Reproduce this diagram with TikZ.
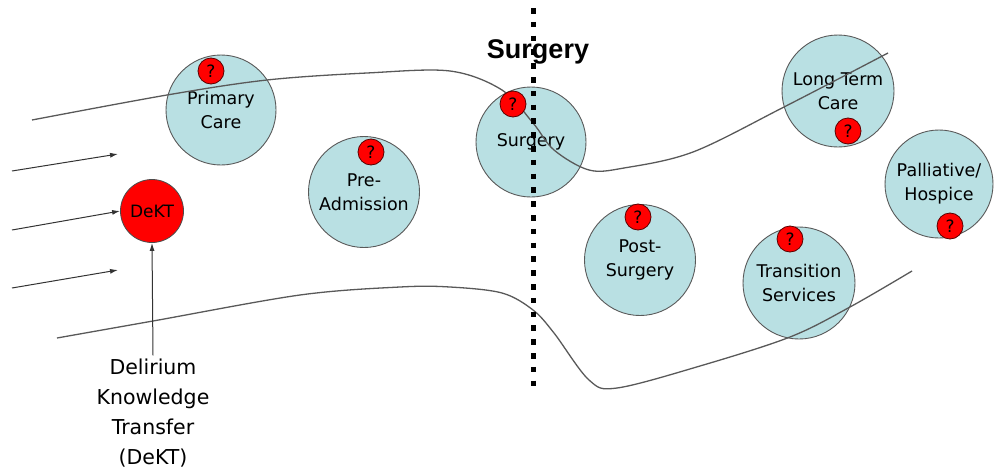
\documentclass[tikz,border=0pt]{standalone}
\usepackage{fontspec}
\setmainfont{DejaVu Sans}
\newfontfamily\titlefont{Liberation Sans}
\usetikzlibrary{arrows.meta}

\definecolor{stageblue}{RGB}{185,224,227}
\definecolor{questred}{RGB}{255,0,0}

\tikzset{
  stage/.style={circle, draw=black!65, fill=stageblue, line width=0.9pt,
    minimum size=#1, inner sep=0pt, align=center,
    font=\fontsize{17.5}{24}\selectfont},
  quest/.style={circle, draw=red!35!black, fill=questred, line width=0.8pt,
    minimum size=26pt, inner sep=0pt, font=\fontsize{17}{17}\selectfont},
  pathline/.style={draw=black!65, line width=1.3pt},
  feed/.style={draw=black!80, line width=1pt, -{Latex[length=8pt,width=5pt]}},
  cutline/.style={line width=5.5pt, dash pattern=on 5.5pt off 8.3pt},
}

\begin{document}
\begin{tikzpicture}[x=1pt, y=-1pt]
        \useasboundingbox (0,0) rectangle (995,471);

        % Care stages
        \node[stage=110pt] (primary) at (221,110) {Primary\\Care};
        \node[stage=111pt] (preadm) at (364,192) {Pre-\\Admission};
        \node[stage=110pt] (surgery) at (531,142) {Surgery};
        \node[stage=111pt] (postsurg) at (640,260) {Post-\\Surgery};
        \node[stage=112pt] (transit) at (799,283) {Transition\\Services};
        \node[stage=112pt] (longterm) at (838,91) {Long Term\\Care};
        \node[stage=108pt] (palliative) at (939,184) {Palliative/\\Hospice};

        % Pathway boundaries
        \draw[pathline] plot[smooth, tension=0.55] coordinates {(32,120) (167,95) (267,80) (367,73) (450,71)
          (502,90) (533,123) (554,150) (589,170) (624,168) (693,152) (784,107) (888,53)};
        \draw[pathline] plot[smooth, tension=0.55] coordinates {(57,338) (153,321) (300,295) (400,287) (450,287)
          (502,293) (533,310) (554,333) (589,380) (617,388) (700,366) (790,337) (850,307) (912,271)};

        % Open questions
        \node[quest] (qprimary) at (211,71) {?};
        \node[quest] (qpreadm) at (371,152) {?};
        \node[quest] (qsurgery) at (513,104) {?};
        \node[quest] (qpostsurg) at (638,217) {?};
        \node[quest] (qtransit) at (790,239) {?};
        \node[quest] (qlongterm) at (848,131) {?};
        \node[quest] (qpalliative) at (950,226) {?};

        % DeKT and its inputs
        \node[circle, draw=black!70, fill=questred, line width=0.8pt, minimum size=63pt, inner sep=0pt,
          font=\fontsize{17}{17}\selectfont] (dekt) at (152,211) {DeKT};
        \coordinate (inA) at (12,171);
        \coordinate (tipA) at (118,154);
        \coordinate (inB) at (12,230);
        \coordinate (inC) at (12,288);
        \coordinate (tipC) at (118,270);
        \draw[feed] (inA) -- (tipA);
        \draw[feed] (inB) -- (dekt.west);
        \draw[feed] (inC) -- (tipC);

        \node[align=center, font=\fontsize{20.5}{30}\selectfont] (deklabel) at (153,413)
          {Delirium\\Knowledge\\Transfer\\(DeKT)};
        \draw[feed] (deklabel.north) -- (dekt.south);

        % Surgery divide
        \node[font=\titlefont\bfseries\fontsize{27}{27}\selectfont] (surgtitle) at (538,52) {Surgery};
        \coordinate (cutTop) at (533.5,8);
        \coordinate (cutBot) at (533.5,390);
        \draw[cutline] (cutTop) -- (cutBot);
\end{tikzpicture}
\end{document}
